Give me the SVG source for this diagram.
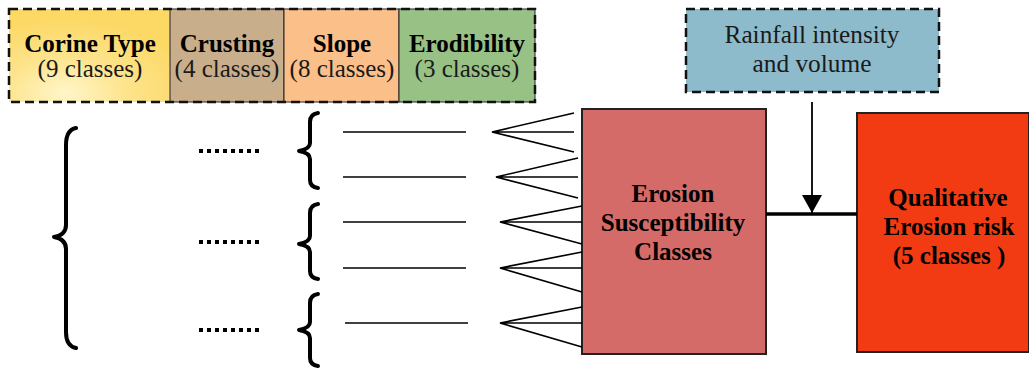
<svg xmlns="http://www.w3.org/2000/svg" width="1029" height="369" viewBox="0 0 1029 369">
<defs>
<style>
.b{font-family:"Liberation Serif","Times New Roman",serif;font-weight:bold;font-size:25px;text-anchor:middle;fill:#000}
.r{font-family:"Liberation Serif","Times New Roman",serif;font-size:25px;text-anchor:middle;fill:#1a1a1a}
.ln{stroke:#000;stroke-width:1.6;fill:none}
.br{stroke:#000;stroke-width:4;fill:none;stroke-linecap:round;stroke-linejoin:round}
.dots{stroke:#000;stroke-width:4;stroke-dasharray:4 4}
.dash{fill:none;stroke:#111;stroke-width:2.5;stroke-dasharray:9 5}
</style>
<radialGradient id="yg" cx="0.35" cy="0.9" r="0.8">
<stop offset="0" stop-color="#fff6c8"/>
<stop offset="0.5" stop-color="#fde38a"/>
<stop offset="1" stop-color="#fcd865"/>
</radialGradient>
<marker id="ah" markerWidth="20" markerHeight="20" refX="18" refY="10" orient="auto" markerUnits="userSpaceOnUse" viewBox="0 0 20 20">
<path d="M0,0 L18,10 L0,20 Z" fill="#000"/>
</marker>
</defs>

<g id="factors">
<g id="corine">
<rect x="9" y="9" width="161" height="93" fill="url(#yg)"/>
<text class="b" x="90" y="52">Corine Type</text>
<text class="r" x="90" y="77">(9 classes)</text>
</g>
<g id="crusting">
<rect x="170" y="9" width="114" height="93" fill="#c9ae8c" stroke="#222" stroke-width="1"/>
<text class="b" x="227" y="52">Crusting</text>
<text class="r" x="227" y="77">(4 classes)</text>
</g>
<g id="slope">
<rect x="284" y="9" width="115" height="93" fill="#fbbf8a" stroke="#222" stroke-width="1"/>
<text class="b" x="342" y="52">Slope</text>
<text class="r" x="342" y="77">(8 classes)</text>
</g>
<g id="erodibility">
<rect x="399" y="9" width="136" height="93" fill="#98c285" stroke="#222" stroke-width="1"/>
<text class="b" x="467" y="52">Erodibility</text>
<text class="r" x="467" y="77">(3 classes)</text>
</g>
<rect class="dash" x="9" y="9" width="526" height="93"/>
</g>

<g id="rainfall">
<rect x="686" y="9" width="253" height="83" fill="#8dbbcc"/>
<rect class="dash" x="686" y="9" width="253" height="83"/>
<text class="r" x="812" y="43" font-size="23" textLength="175" lengthAdjust="spacingAndGlyphs">Rainfall intensity</text>
<text class="r" x="812" y="72" font-size="23" textLength="119" lengthAdjust="spacingAndGlyphs">and volume</text>
</g>

<g id="susceptibility">
<rect x="582" y="109" width="184" height="245" fill="#d46b68" stroke="#222" stroke-width="2"/>
<text class="b" x="673" y="202">Erosion</text>
<text class="b" x="673" y="231">Susceptibility</text>
<text class="b" x="673" y="260">Classes</text>
</g>

<g id="risk">
<rect x="857" y="113" width="172" height="239" fill="#f23b12" stroke="#222" stroke-width="2"/>
<text class="b" x="948" y="206">Qualitative</text>
<text class="b" x="949" y="235">Erosion risk</text>
<text class="b" x="949" y="264">(5 classes )</text>
</g>

<g id="braces">
<path class="br" d="M76,128 Q66,130 66,145 L66,225 Q66,235 54,237 Q66,239 66,249 L66,332 Q66,346 76,348"/>
<path class="br" d="M318,113 Q310,114 310,122 L310,143 Q310,149 299,151 Q310,153 310,159 L310,180 Q310,187 318,188"/>
<path class="br" d="M318,204 Q310,205 310,213 L310,236 Q310,242 299,244 Q310,246 310,252 L310,271 Q310,278 318,279"/>
<path class="br" d="M318,294 Q310,295 310,303 L310,322 Q310,328 299,330 Q310,332 310,338 L310,358 Q310,365 318,366"/>
<line class="dots" x1="199" y1="151" x2="263" y2="151"/>
<line class="dots" x1="199" y1="242" x2="263" y2="242"/>
<line class="dots" x1="199" y1="330" x2="263" y2="330"/>
</g>

<g id="connectors">
<line class="ln" x1="343" y1="132" x2="466" y2="132"/>
<line class="ln" x1="343" y1="177" x2="466" y2="177"/>
<line class="ln" x1="343" y1="222" x2="466" y2="222"/>
<line class="ln" x1="343" y1="268" x2="466" y2="268"/>
<line class="ln" x1="345" y1="323" x2="468" y2="323"/>
<path class="ln" d="M574,113 L492,132 L574,152 M492,132 L574,132"/>
<path class="ln" d="M578,158 L496,177 L578,198 M496,177 L578,177"/>
<path class="ln" d="M582,206 L500,222 L582,244 M500,222 L582,222"/>
<path class="ln" d="M582,252 L500,268 L582,292 M500,268 L582,268"/>
<path class="ln" d="M582,307 L500,323 L582,347 M500,323 L582,323"/>
<line x1="766" y1="214" x2="857" y2="214" stroke="#000" stroke-width="3.5"/>
<line x1="812" y1="102" x2="812" y2="213" stroke="#000" stroke-width="1.8" marker-end="url(#ah)"/>
</g>
</svg>
